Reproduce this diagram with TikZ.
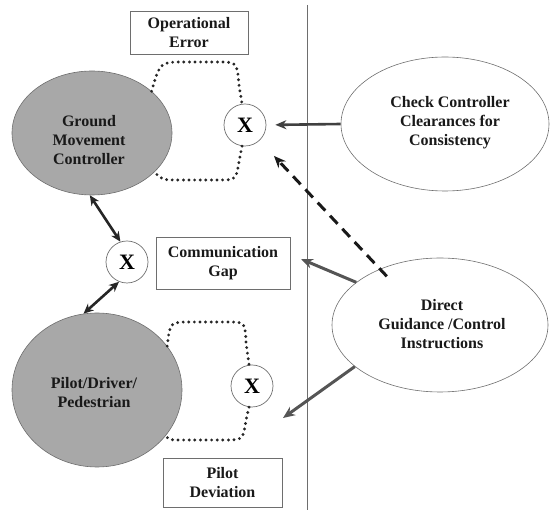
\documentclass[tikz,border=0pt]{standalone}
\usepackage{fontspec}
\setmainfont{Liberation Serif}
\usetikzlibrary{shapes.geometric,arrows.meta}
\definecolor{ellfill}{RGB}{168,168,168}
\definecolor{edgegray}{RGB}{110,110,110}
\definecolor{arrgray}{RGB}{85,85,85}
\begin{document}
\begin{tikzpicture}[x=1pt,y=-1pt,
  lbl/.style={font=\fontsize{16}{19}\selectfont\bfseries, align=center, text=black!90},
  oval/.style={ellipse, draw=edgegray, line width=0.6pt, inner sep=0pt},
  grayoval/.style={oval, fill=ellfill},
  tagbox/.style={draw=edgegray, line width=0.7pt, inner sep=0pt},
  xcirc/.style={circle, draw=edgegray, line width=0.7pt, minimum size=42pt, inner sep=0pt, font=\fontsize{22}{24}\selectfont\bfseries},
  dotloop/.style={line width=3.2pt, dash pattern=on 0pt off 5.6pt, line cap=round, black!85},
  dblarrow/.style={line width=2.6pt, black!85, {Stealth[length=10pt,width=9pt]}-{Stealth[length=10pt,width=9pt]}},
  grayarrow/.style={arrgray, line width=3pt, -{Stealth[length=12pt,width=10pt]}},
]
\useasboundingbox (0,0) rectangle (550,510);
% divider
\draw[edgegray, line width=0.6pt] (307,5) coordinate (vtop) -- (307,510) coordinate (vbot);

% main ellipses
\node[grayoval, minimum width=160pt, minimum height=124pt] (gmc) at (92,133) {};
\node[lbl] (gmct) at (89,140) {Ground\\Movement\\Controller};
\node[grayoval, minimum width=170pt, minimum height=154pt] (pilot) at (97,390) {};
\node[lbl] (pilott) at (94,393) {Pilot/Driver/\\Pedestrian};

\node[oval, minimum width=208pt, minimum height=134pt] (check) at (445,124) {};
\node[lbl] (checkt) at (450,123) {Check Controller\\Clearances for\\Consistency};
\node[oval, minimum width=216pt, minimum height=134pt] (direct) at (440,325) {};
\node[lbl] (directt) at (442,324) {Direct\\Guidance /Control\\Instructions};

% boxes
\node[tagbox, minimum width=118pt, minimum height=43pt, lbl] (oe) at (189,32.5) {Operational\\Error};
\node[tagbox, minimum width=134pt, minimum height=52pt, lbl] (cg) at (223,263) {Communication\\Gap};
\node[tagbox, minimum width=119pt, minimum height=49pt, lbl] (pd) at (222.5,482.5) {Pilot\\Deviation};

% X circles
\node[xcirc] (ox) at (245,125) {X};
\node[xcirc] (mx) at (127,262) {X};
\node[xcirc] (px) at (252,386) {X};

% dotted loops
\draw[dotloop] (gmc.35) .. controls (160,62) .. (185,62) -- (218,62) .. controls (237,62) .. (239,85) -- (ox.98);
\draw[dotloop] (ox.262) -- (239,162) .. controls (236,180) .. (218,180) -- (180,180) .. controls (162,180) .. (gmc.-32);
\draw[dotloop] (pilot.32) .. controls (170,322) .. (190,322) -- (228,322) .. controls (245,322) .. (246,342) -- (px.98);
\draw[dotloop] (px.262) -- (246,420) .. controls (243,440) .. (225,440) -- (185,440) .. controls (168,440) .. (pilot.-33);

% double arrows
\draw[dblarrow] (gmc.-92) -- (mx.108);
\draw[dblarrow] (mx.-112) -- (pilot.100);

% check -> X
\draw[black!75, line width=2.6pt, -{Stealth[length=11pt,width=9pt]}, shorten >=9pt] (check.west) -- (ox.east);
% dashed
\draw[line width=3pt, black!90, dash pattern=on 11pt off 7pt, -{Stealth[length=12pt,width=10pt]}, shorten <=-10pt, shorten >=21pt] (direct.137) -- (ox);
% gray arrows
\coordinate (cgtip) at (301,259);
\coordinate (pdtip) at (283,418);
\draw[grayarrow] (direct.153) -- (cgtip);
\draw[grayarrow] (direct.206) -- (pdtip);
\end{tikzpicture}
\end{document}
